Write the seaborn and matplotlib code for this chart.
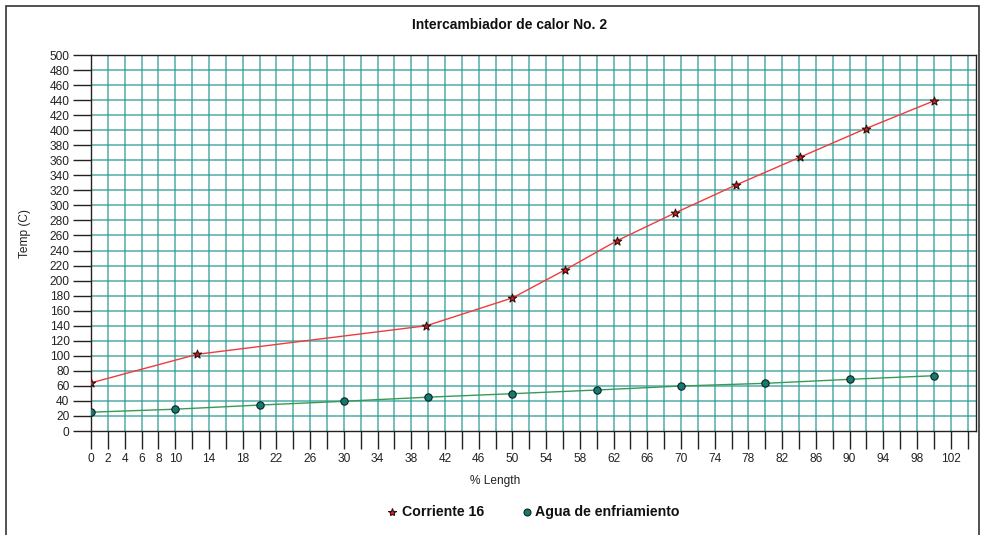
import numpy as np
import pandas as pd
import matplotlib
matplotlib.use('Agg')
import matplotlib.pyplot as plt
import seaborn as sns
from matplotlib.patches import Rectangle

# Data
corriente_x = [0, 12.6, 39.8, 50, 56.2, 62.4, 69.3, 76.5, 84.1, 91.9, 100]
corriente_t = [64, 102, 140, 177, 214, 253, 290, 327, 364, 402, 439]

agua_x = [0, 10, 20, 30, 40, 50, 60, 70, 80, 90, 100]
agua_t = [25, 29, 34.5, 39.5, 45, 49.6, 54.5, 59.8, 63.4, 68.7, 73.5]

x_ticks = list(range(0, 106, 2))
x_labels = ['0', '2', '4', '6', '8', '10'] + \
    [str(v) if (v - 10) % 4 == 0 else '' for v in range(12, 106, 2)]
y_ticks = list(range(0, 501, 20))

df = pd.concat([
    pd.DataFrame({'x': corriente_x, 't': corriente_t, 'serie': 'Corriente 16'}),
    pd.DataFrame({'x': agua_x, 't': agua_t, 'serie': 'Agua de enfriamiento'}),
])

sns.set_style('white')
plt.rcParams['font.family'] = ['Liberation Sans', 'DejaVu Sans']

fig = plt.figure(figsize=(9.85, 5.35), dpi=100)
ax = fig.add_axes([91 / 985, 1 - 431 / 535, (976 - 91) / 985, (431 - 55) / 535])

grid_c = '#2a9a93'
for v in x_ticks[1:]:
    ax.axvline(v, color=grid_c, lw=1.2, alpha=0.75, zorder=0)
for v in y_ticks[1:]:
    ax.axhline(v, color=grid_c, lw=1.2, alpha=0.75, zorder=0)

sns.lineplot(data=df[df.serie == 'Corriente 16'], x='x', y='t', ax=ax,
             color='#f03c3c', lw=1, legend=False, zorder=2)
sns.lineplot(data=df[df.serie == 'Agua de enfriamiento'], x='x', y='t', ax=ax,
             color='#3a9a55', lw=1, legend=False, zorder=2)
ax.scatter(corriente_x, corriente_t, marker='*', s=40, color='#e02020',
           edgecolor='#301010', linewidth=0.8, zorder=3)
ax.scatter(agua_x, agua_t, marker='o', s=28, color='#137a70',
           edgecolor='#102020', linewidth=0.8, zorder=3)

ax.set_xlim(0, 105)
ax.set_ylim(0, 500)
ax.set_xticks(x_ticks)
ax.set_xticklabels(x_labels)
ax.set_yticks(y_ticks)
ax.set_yticklabels([str(v) for v in y_ticks])
ax.tick_params(axis='both', which='both', direction='out', length=13,
               width=1, color='#222222', labelsize=8.6, labelcolor='#222222',
               left=True, bottom=True, pad=2.5)
for s in ax.spines.values():
    s.set_color('#222222')
    s.set_linewidth(1)
ax.set_xlabel('')
ax.set_ylabel('')

fig.text(25 / 985, 1 - 233 / 535, 'Temp (C)', rotation=90, ha='center',
         va='center', fontsize=8.6, color='#222222')
fig.text(495 / 985, 1 - 481 / 535, '% Length', ha='center', va='center',
         fontsize=8.6, color='#222222')
fig.text(510 / 985, 1 - 25 / 535, 'Intercambiador de calor No. 2', ha='center',
         va='center', fontsize=10, fontweight='bold', color='#111111')

# legend at bottom
ly = 1 - 512 / 535
fig.lines.append(plt.Line2D([392 / 985], [ly], marker='*', markersize=6,
                            color='#e02020', markeredgecolor='#301010',
                            markeredgewidth=0.8, transform=fig.transFigure))
fig.text(402 / 985, ly, 'Corriente 16', ha='left', va='center', fontsize=10.2,
         fontweight='bold', color='#111111')
fig.lines.append(plt.Line2D([527 / 985], [ly], marker='o', markersize=5,
                            color='#137a70', markeredgecolor='#102020',
                            markeredgewidth=0.8, transform=fig.transFigure))
fig.text(535 / 985, ly, 'Agua de enfriamiento', ha='left', va='center',
         fontsize=10.2, fontweight='bold', color='#111111')

fig.patches.append(Rectangle((6 / 985, -0.01), (979 - 6) / 985, 1 - 6 / 535 + 0.01,
                             transform=fig.transFigure, fill=False,
                             edgecolor='#333333', lw=1.2))

fig.savefig('out.png', dpi=100)
